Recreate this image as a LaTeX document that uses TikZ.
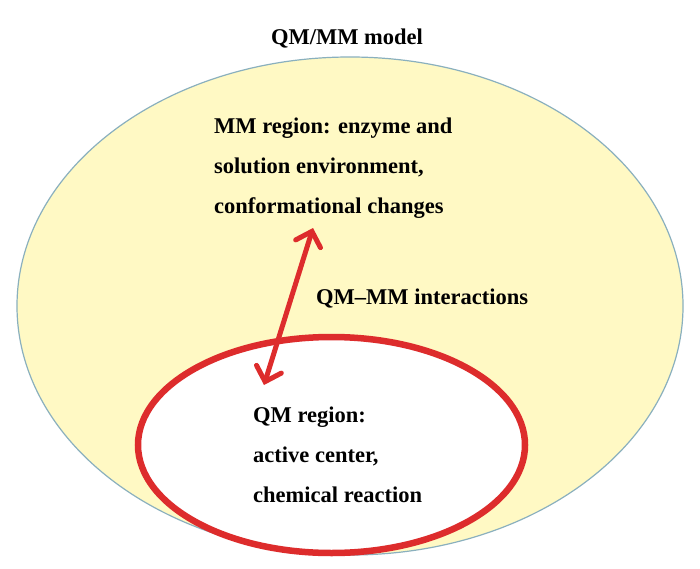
\documentclass[tikz,border=0pt]{standalone}
\usepackage{fontspec}
\setmainfont{Liberation Serif}
\usetikzlibrary{arrows.meta}
\definecolor{mmfill}{HTML}{FFF9C4}
\definecolor{mmedge}{HTML}{8AB0BE}
\definecolor{qmred}{HTML}{DD2C2C}
\tikzset{
  lbl/.style={anchor=base west, inner sep=0pt, font=\bfseries\fontsize{22.5}{27}\selectfont},
  region/.style={draw, ellipse}
}
\begin{document}
\begin{tikzpicture}[x=1pt,y=-1pt]
\useasboundingbox (0,0) rectangle (700,569);
\fill[white] (0,0) rectangle (700,569);
% MM ellipse
\draw[mmedge, line width=1.2pt, fill=mmfill] (350,306) ellipse [x radius=333, y radius=249];
% QM ellipse
\draw[qmred, line width=6.5pt, fill=white] (331.5,445) ellipse [x radius=193.5, y radius=108];
% title
\node[lbl, anchor=base] (title) at (347,45) {QM/MM model};
% MM text
\node[lbl] (mm1) at (214,134) {MM region: enzyme and};
\node[lbl] (mm2) at (214,174) {solution environment,};
\node[lbl] (mm3) at (214,214) {conformational changes};
% interaction label
\node[lbl] (inter) at (316,304) {QM--MM interactions};
% QM text
\node[lbl] (qm1) at (253,422) {QM region:};
\node[lbl] (qm2) at (253,462) {active center,};
\node[lbl] (qm3) at (253,502) {chemical reaction};
% arrow
\coordinate (top) at (313,228);
\coordinate (bot) at (264,385);
\draw[qmred, line width=5pt, line cap=round,
  {Straight Barb[length=13pt,width=26pt,line cap=round]}-{Straight Barb[length=13pt,width=26pt,line cap=round]}]
  (bot) -- (top);
\end{tikzpicture}
\end{document}
